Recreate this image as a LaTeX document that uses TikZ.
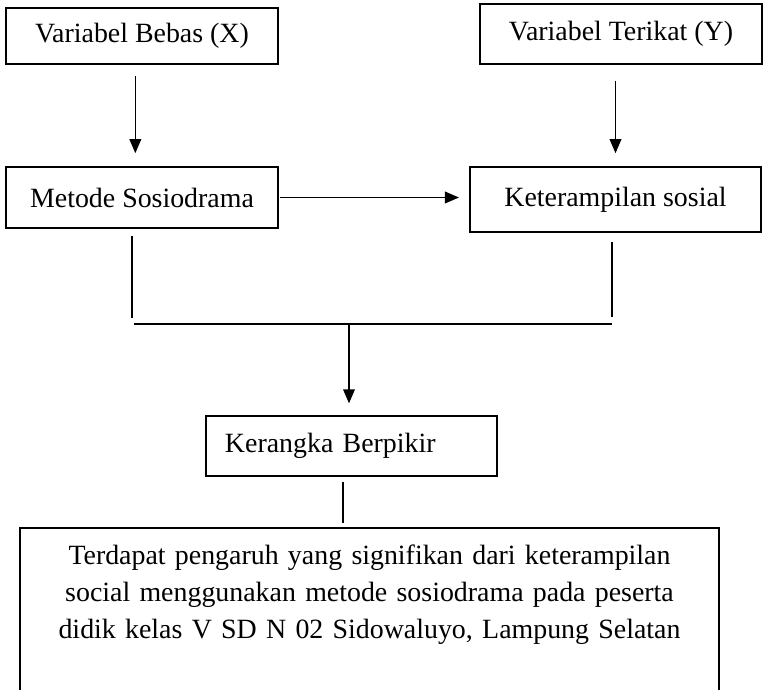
\documentclass[tikz,border=0pt]{standalone}
\usepackage{fontspec}
\setmainfont{Liberation Serif}
\usetikzlibrary{arrows.meta}
\tikzset{kotak/.style={draw,line width=0.8pt,inner sep=2pt,align=center},
 garis/.style={line width=0.6pt}}
\begin{document}
\begin{tikzpicture}[>={Triangle[length=6pt,width=5pt]},x=0.015cm,y=-0.015cm,font=\fontsize{11.9}{15.8}\selectfont]
 \clip (0,0) rectangle (763,689);
 % kotak variabel
 \node[kotak,minimum width=4.08cm,minimum height=0.84cm] (bebas) at (142,36) {Variabel Bebas (X)};
 \node[kotak,minimum width=4.23cm,minimum height=0.9cm] (terikat) at (621,34) {Variabel Terikat (Y)};
 \node[kotak,minimum width=4.08cm,minimum height=0.915cm] (metode) at (142,197.5) {Metode Sosiodrama};
 \node[kotak,minimum width=4.365cm,minimum height=0.975cm] (sosial) at (615.5,199.5) {Keterampilan sosial};
 \node[kotak,minimum height=0.9cm,text width=3.795cm,inner xsep=0.285cm,align=left] (kerangka) at (351.5,446) {Kerangka Berpikir};
 \node[kotak,anchor=north,text width=10.085cm,inner xsep=0.2cm,inner ysep=7.3pt,text depth=1.8cm] (hasil) at (369.5,527) {Terdapat pengaruh yang signifikan dari keterampilan\\ social menggunakan metode sosiodrama pada peserta\\ didik kelas V SD N 02 Sidowaluyo, Lampung Selatan};
 \coordinate (kiri) at (132,324);
 \coordinate (kanan) at (612,324);
 \coordinate (tengah) at (349,324);
 % panah
 \draw[garis,->,shorten <=4.7pt,shorten >=5.5pt] ([xshift=-0.1cm]bebas.south) -- ([xshift=-0.1cm]metode.north);
 \draw[garis,->,shorten <=6.8pt,shorten >=5.5pt] (sosial.north |- terikat.south) -- (sosial.north);
 \draw[garis,->,shorten <=0.4pt,shorten >=4.3pt] (metode.east) -- (metode.east -| sosial.west);
 \draw[garis,shorten <=3pt,shorten >=2.6pt] (metode.south -| kiri) -- (kiri);
 \draw[garis,shorten <=3.8pt,shorten >=3pt] (sosial.south -| kanan) -- (kanan);
 \draw[garis,shorten <=0.85pt] (kiri) -- (kanan);
 \draw[garis,->,shorten >=5pt] (tengah) -- (kerangka.north -| tengah);
 \draw[garis,shorten <=2pt,shorten >=1.7pt] ([xshift=-0.13cm]kerangka.south) -- ([xshift=-0.13cm]kerangka.south |- hasil.north);
\end{tikzpicture}
\end{document}
